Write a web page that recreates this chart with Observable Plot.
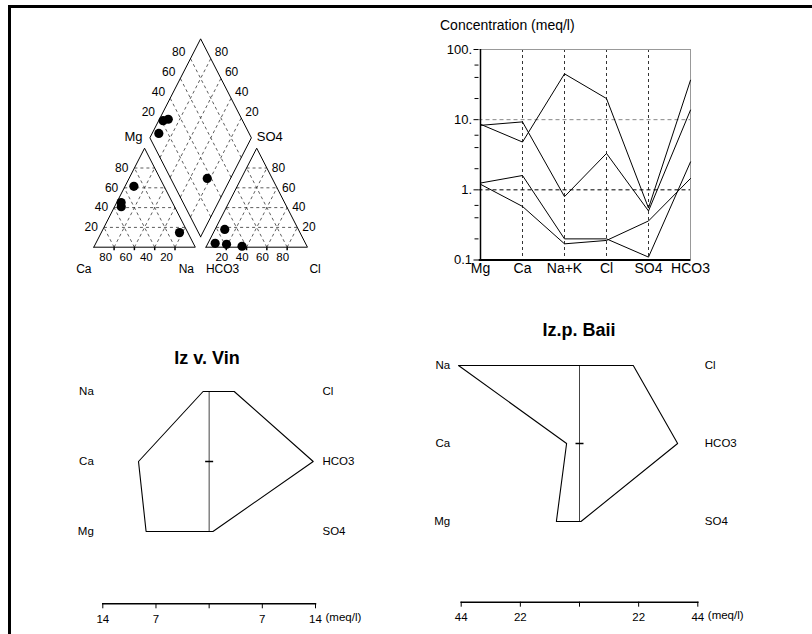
<!DOCTYPE html>
<html><head><meta charset="utf-8">
<script src="https://cdn.jsdelivr.net/npm/d3@7"></script>
<script src="https://cdn.jsdelivr.net/npm/@observablehq/plot@0.6"></script>
<style>
body{margin:0;background:#fff;}
#page{position:relative;width:812px;height:634px;overflow:hidden;background:#fff;font-family:"Liberation Sans",Arial,sans-serif;color:#000;}
#frame{position:absolute;left:8px;top:5px;width:900px;height:700px;border-top:3px solid #000;border-left:3px solid #000;z-index:5;pointer-events:none;}
.panel{position:absolute;}
.title{position:absolute;transform:translate(-50%,-50%);white-space:nowrap;font-weight:bold;font-size:18px;}
#conc{position:absolute;left:440px;top:17px;font-size:14px;line-height:16px;white-space:nowrap;}
</style></head><body>
<div id="page"><div id="frame"></div>
<div id="conc">Concentration (meq/l)</div>
<div class="title" style="left:207px;top:358px">Iz v. Vin</div>
<div class="title" style="left:579px;top:330px">Iz.p. Baii</div>
</div>
<script>
// ---------------- data ----------------
const ions = ["Mg", "Ca", "Na+K", "Cl", "SO4", "HCO3"];
const samples = ["Sample 1", "Iz v. Vin", "Sample 3", "Iz.p. Baii"];
const Mg   = [1.2, 8.3, 1.25, 8.6];
const Ca   = [0.58, 9.3, 1.6, 4.8];
const NaK  = [0.17, 0.8, 0.2, 45];
const Cl   = [0.19, 3.3, 0.2, 20];
const SO4  = [0.36, 0.5, 0.11, 0.55];
const HCO3 = [1.45, 13.7, 2.5, 36.5];
const logTicks = [0.1, 1, 10, 100];
const logTickLabels = ["0.1", "1.", "10.", "100."];
const minorTicks = [0.2, 0.4, 0.6, 2, 4, 6, 20, 40, 60];
const piperTicks = [20, 40, 60, 80];
const stiffSamples = ["Iz v. Vin", "Iz.p. Baii"];
const stiffTicks = [[-14, -7, 0, 7, 14], [-44, -22, 0, 22, 44]];
const cationRows = ["Na", "Ca", "Mg"];
const anionRows = ["Cl", "HCO3", "SO4"];

// -------------- derived tables --------------
const table = samples.map((s, i) => ({sample: s, Mg: Mg[i], Ca: Ca[i], NaK: NaK[i], Cl: Cl[i], SO4: SO4[i], HCO3: HCO3[i]}));
const col = {"Mg": "Mg", "Ca": "Ca", "Na+K": "NaK", "Cl": "Cl", "SO4": "SO4", "HCO3": "HCO3"};
const longData = table.flatMap(r => ions.map(ion => ({sample: r.sample, ion, v: r[col[ion]]})));

const FONT = "'Liberation Sans', Arial, sans-serif";
const baseStyle = {fontFamily: FONT, background: "transparent", maxWidth: "none", overflow: "visible", color: "#000"};
const page = document.getElementById("page");
function place(svg, left, top) {
  const d = document.createElement("div");
  d.className = "panel"; d.style.left = left + "px"; d.style.top = top + "px";
  d.appendChild(svg); page.appendChild(d);
}
const vtick = {draw(ctx, size) { const r = Math.sqrt(size / Math.PI); ctx.moveTo(0, 0); ctx.lineTo(0, r); }};
const htick = {draw(ctx, size) { const r = Math.sqrt(size / Math.PI); ctx.moveTo(-r, 0); ctx.lineTo(r, 0); }};

// ---------------- Piper ----------------
const H = Math.sqrt(3) / 2, G = 0.105;
const catXY = (mg, na) => [na + mg / 2, mg * H];
const anXY = (so4, cl) => [1 + G + cl + so4 / 2, so4 * H];
const BX = 1 + G / 2, BY = G / 2 * Math.sqrt(3);
const diaXY = (na, hco3) => { const a = 1 - na, b = 1 - hco3; return [BX + (b - a) / 2, BY + (a + b) * H]; };
const P = ([x, y], extra = {}) => ({x, y, ...extra});

const piperPts = table.flatMap(r => {
  const ct = r.Ca + r.Mg + r.NaK, at = r.HCO3 + r.SO4 + r.Cl;
  const mg = r.Mg / ct, na = r.NaK / ct, so4 = r.SO4 / at, cl = r.Cl / at, hco3 = r.HCO3 / at;
  return [P(catXY(mg, na)), P(anXY(so4, cl)), P(diaXY(na, hco3))];
});
const outlines = [
  ...[catXY(0, 0), catXY(0, 1), catXY(1, 0), catXY(0, 0)].map(p => P(p, {id: "cat"})),
  ...[anXY(0, 0), anXY(0, 1), anXY(1, 0), anXY(0, 0)].map(p => P(p, {id: "an"})),
  ...[diaXY(1, 1), diaXY(0, 1), diaXY(0, 0), diaXY(1, 0), diaXY(1, 1)].map(p => P(p, {id: "dia"}))
];
const seg = (p, q) => ({x1: p[0], y1: p[1], x2: q[0], y2: q[1]});
const grid = piperTicks.flatMap(v => { const t = v / 100; return [
  seg(catXY(t, 0), catXY(t, 1 - t)), seg(catXY(0, t), catXY(1 - t, t)), seg(catXY(0, 1 - t), catXY(1 - t, 0)),
  seg(anXY(t, 0), anXY(t, 1 - t)), seg(anXY(0, t), anXY(1 - t, t)), seg(anXY(0, 1 - t), anXY(1 - t, 0)),
  seg(diaXY(t, 1), diaXY(t, 0)), seg(diaXY(1, t), diaXY(0, t))
]; });
const tl = f => piperTicks.map(v => P(f(v / 100), {text: String(v)}));
const PXX = 101.5, PXY = 114.3; // px per unit
const piper = Plot.plot({
  width: 270, height: 260, margin: 0,
  style: {...baseStyle, fontSize: "12px"},
  x: {domain: [-33.3 / PXX, (270 - 33.3) / PXX], axis: null},
  y: {domain: [(226.7 - 260) / PXY, 226.7 / PXY], axis: null},
  marks: [
    Plot.link(grid, {x1: "x1", y1: "y1", x2: "x2", y2: "y2", stroke: "#333", strokeWidth: 0.8, strokeDasharray: "3,3"}),
    Plot.line(outlines, {x: "x", y: "y", z: "id", stroke: "#000", strokeWidth: 1}),
    Plot.dot([...piperTicks.map(v => P(catXY(0, v / 100))), ...piperTicks.map(v => P(anXY(0, v / 100)))], {x: "x", y: "y", symbol: vtick, r: 3, stroke: "#000"}),
    Plot.text(tl(t => catXY(0, 1 - t)), {x: "x", y: "y", text: "text", textAnchor: "end", dx: -2, dy: 10, fontSize: 11.5}),
    Plot.text(tl(t => catXY(t, 0)), {x: "x", y: "y", text: "text", textAnchor: "end", dx: -6}),
    Plot.text(tl(t => anXY(0, t)), {x: "x", y: "y", text: "text", textAnchor: "end", dx: 2, dy: 10, fontSize: 11.5}),
    Plot.text(tl(t => anXY(t, 1 - t)), {x: "x", y: "y", text: "text", textAnchor: "start", dx: 5}),
    Plot.text(tl(t => diaXY(0, 1 - t)), {x: "x", y: "y", text: "text", textAnchor: "end", dx: -5, dy: -6}),
    Plot.text(tl(t => diaXY(1 - t, 0)), {x: "x", y: "y", text: "text", textAnchor: "start", dx: 4, dy: -6}),
    Plot.text([P(catXY(0, 0), {t: "Ca"})], {x: "x", y: "y", text: "t", fontSize: 12, dx: -10, dy: 22}),
    Plot.text([P(catXY(0, 1), {t: "Na"})], {x: "x", y: "y", text: "t", fontSize: 12, dx: -9, dy: 22}),
    Plot.text([P(anXY(0, 0), {t: "HCO3"})], {x: "x", y: "y", text: "t", fontSize: 12, textAnchor: "start", dy: 22}),
    Plot.text([P(anXY(0, 1), {t: "Cl"})], {x: "x", y: "y", text: "t", fontSize: 12, textAnchor: "start", dx: 2, dy: 22}),
    Plot.text([P(catXY(1, 0), {t: "Mg"})], {x: "x", y: "y", text: "t", fontSize: 13, textAnchor: "end", dx: -2, dy: -11}),
    Plot.text([P(anXY(1, 0), {t: "SO4"})], {x: "x", y: "y", text: "t", fontSize: 13, textAnchor: "start", dx: 0, dy: -11}),
    Plot.dot(piperPts, {x: "x", y: "y", r: 4.6, fill: "#000"})
  ]
});
place(piper, 60, 20);

// ---------------- Schoeller ----------------
const schoeller = Plot.plot({
  width: 310, height: 290, marginLeft: 58.5, marginRight: 39.5, marginTop: 49, marginBottom: 30.5,
  style: {...baseStyle, fontSize: "13px"},
  x: {type: "point", domain: ions, padding: 0, label: null},
  y: {type: "log", domain: [0.1, 100], label: null},
  marks: [
    Plot.ruleX(ions.slice(1, -1), {stroke: "#000", strokeWidth: 0.8, strokeDasharray: "3,3"}),
    Plot.ruleY([10], {stroke: "#888", strokeDasharray: "4,3"}),
    Plot.ruleY([1], {stroke: "#000", strokeDasharray: "4,3"}),
    Plot.ruleY([100], {stroke: "#999"}),
    Plot.ruleX([ions[ions.length - 1]], {stroke: "#999"}),
    Plot.line(longData, {x: "ion", y: "v", z: "sample", stroke: "#000", strokeWidth: 1}),
    Plot.ruleX([ions[0]], {stroke: "#000", strokeWidth: 1.5}),
    Plot.ruleY([0.1], {stroke: "#000", strokeWidth: 2}),
    Plot.axisY({ticks: minorTicks, tickFormat: () => "", tickSize: 4, label: null}),
    Plot.axisY({ticks: logTicks, tickFormat: d => logTickLabels[logTicks.indexOf(d)], tickSize: 5, tickPadding: 2, fontSize: 13, label: null}),
    Plot.axisX({tickSize: 0, tickPadding: 3, fontSize: 14, label: null})
  ]
});
place(schoeller, 420, 0);

// ---------------- Stiff ----------------
function stiff(k, cfg) {
  const r = table[samples.indexOf(stiffSamples[k])];
  const ticks = stiffTicks[k];
  const max = ticks[ticks.length - 1];
  const poly = [
    {x: -r.NaK, y: "Na"}, {x: -r.Ca, y: "Ca"}, {x: -r.Mg, y: "Mg"},
    {x: r.SO4, y: "Mg"}, {x: r.HCO3, y: "Ca"}, {x: r.Cl, y: "Na"}, {x: -r.NaK, y: "Na"}
  ];
  return Plot.plot({
    width: cfg.width, height: cfg.height, marginLeft: cfg.ml, marginRight: cfg.mr, marginTop: 10, marginBottom: cfg.mb,
    style: {...baseStyle, fontSize: "11.5px"},
    x: {domain: [-max, max], label: null},
    y: {type: "point", domain: cationRows, range: cfg.yr, padding: 0, axis: null, label: null},
    marks: [
      Plot.frame({anchor: "bottom", stroke: "#000", strokeWidth: 1.5}),
      Plot.axisX({ticks, tickFormat: d => d === 0 ? "" : String(Math.abs(d)), tickSize: 5, tickPadding: 6, fontSize: 11.5, label: null}),
      Plot.text([max], {x: d => d, text: () => "(meq/l)", frameAnchor: "bottom", textAnchor: "start", dx: 10, dy: 17, fontSize: 11.5}),
      Plot.ruleX([0], {x: d => d, y1: () => cationRows[0], y2: () => cationRows[2], stroke: "#444"}),
      Plot.dot([{x: 0, y: cationRows[1]}], {x: "x", y: "y", symbol: htick, r: 4, stroke: "#000"}),
      Plot.line(poly, {x: "x", y: "y", stroke: "#000", strokeWidth: 1.1}),
      Plot.text(cationRows, {x: () => -max, y: d => d, text: d => d, textAnchor: "end", dx: cfg.ldx}),
      Plot.text(cationRows.map((c, i) => ({c, a: anionRows[i]})), {x: () => max, y: "c", text: "a", textAnchor: "start", dx: 7})
    ]
  });
}
place(stiff(0, {width: 310, height: 314, ml: 42.3, mr: 55, mb: 30.7, yr: [70, 211.7], ldx: -9}), 60, 320);
place(stiff(1, {width: 392, height: 334, ml: 40.7, mr: 114.7, mb: 32.3, yr: [65, 221], ldx: -11}), 420, 300);
</script></body></html>
